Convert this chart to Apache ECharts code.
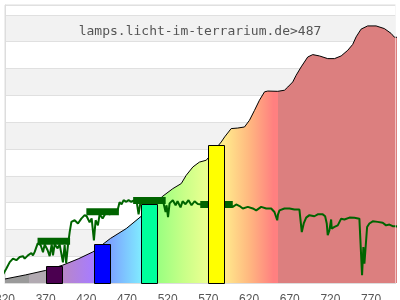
<!DOCTYPE html>
<html>
<head>
<meta charset="utf-8">
<script src="https://cdn.jsdelivr.net/npm/echarts@6/dist/echarts.min.js"></script>
<style>html,body{margin:0;padding:0;background:#fff}#c{width:400px;height:300px}</style>
</head>
<body>
<div id="c"></div>
<script>
// ---- data ----
const titleText = 'lamps.licht-im-terrarium.de>487';
const xTickStart = 320, xTickEnd = 800, xTickStep = 50;
const yMax = 10.37;

// lamp spectrum (filled area)
const areaNm  = [320,345,370,390.5,410,428,449.5,469,487.5,500,514,526.3,536.7,542.8,551,559,567.4,576,585.8,590,598,606,614.4,620.5,626.7,632.8,639,643,655.3,663.5,667.6,673.7,677.9,684,692.1,698.3,706.5,716.7,725,733.2,741.3,747.4,751.6,757.7,765.8,776.1,786.3,794.6,798.6,804.7];
const areaVal = [0.15,0.3,0.47,0.66,0.9,1.16,1.66,2.03,2.49,2.85,3.24,3.52,3.71,4.02,4.33,4.51,4.58,4.9,5.26,5.45,5.76,5.78,5.82,6.07,6.44,6.82,7.13,7.16,7.15,7.19,7.31,7.5,7.75,8.06,8.43,8.52,8.47,8.37,8.37,8.47,8.68,8.9,9.18,9.47,9.59,9.59,9.49,9.31,9.17,9.16];

// spectrum colour stops [nm, colour]
const colourNm  = [320,350,350,370,390,428,430,450,487,490,507,540,567,590,620,650,655,655,805];
const colourHex = ['#9a9a9a','#9a9a9a','#b2aab2','#b2aab2','#b987c6','#a77cff','#7f9cff','#7ca4ff','#80eaff','#90ff80','#98ff80','#c8ff88','#eaff90','#ffea8c','#ffb880','#ff8080','#ff8080','#dc7f7f','#dc7f7f'];

// reference (daylight) line
const greenNm  = [313.5,317.5,321.7,325.8,329.8,334,338.1,342.1,344.2,348.2,352.4,354.4,356.5,358.6,360.2,363.9,366.7,368.8,372.4,374.9,377.4,379,381,384.7,387.2,391.2,393.3,395.2,397.4,399.5,401.6,405.6,409.7,413.8,417.9,420.4,424,426.5,429.3,431.4,434.2,436.3,440,443.7,448.6,453.5,458.4,460.8,463.3,465.8,469.1,471.9,475.2,479.3,481.8,484.2,486.7,497.7,510,514.9,517.4,518.6,520.4,522.3,526.3,529.7,532.1,535.8,538.3,541.9,545.6,549.3,553,557,565,580,595,600,604.2,608.3,612.3,618.5,624.6,628.8,634.9,641.1,647.2,651.2,654.6,655.6,657.4,663.5,669.7,675.8,681.9,684,684.8,687.2,690.2,694.2,696.3,700.3,704.4,710.6,713.5,715.5,716.7,718.8,720.9,721.6,725,729,733.2,737.2,743.4,749.5,755.6,757.7,758.9,760.5,761.8,763,765.1,767.9,772,778.1,784.3,788.4,792.5,796.5,800.7,804.8];
const greenVal = [0.20,0.32,0.54,0.78,0.91,0.85,0.97,1.0,0.91,1.03,1.12,1.03,1.16,1.10,1.48,1.41,1.15,1.44,1.22,1.0,1.44,1.03,1.44,1.29,1.44,0.77,1.41,0.74,1.41,1.90,2.28,2.34,2.22,2.40,2.53,2.49,2.26,2.41,1.59,2.34,2.15,2.56,2.41,2.60,2.56,2.64,2.71,3.01,2.94,3.09,3.03,3.09,3.03,3.09,3.05,2.56,3.05,3.09,3.07,2.97,2.65,2.90,2.46,2.97,3.09,2.90,3.05,2.82,3.05,2.94,3.09,2.90,3.05,2.95,2.92,2.93,2.90,2.84,2.93,2.87,2.78,2.84,2.78,2.71,2.84,2.78,2.78,2.65,2.34,2.56,2.71,2.78,2.78,2.74,2.74,2.71,1.90,2.22,2.44,2.53,2.59,2.49,2.56,2.56,2.49,2.22,1.78,1.97,2.37,2.03,2.09,2.15,2.40,2.37,2.44,2.43,2.40,2.34,0.29,1.34,0.72,1.22,2.09,2.22,2.30,2.28,2.25,2.15,2.18,2.12,2.12,2.05];

// band averages of the reference line
const bandStart = [360,420,477.5,560];
const bandEnd   = [400,460,517.5,600];
const bandVal   = [1.56,2.66,3.08,2.93];

// LED bars
const barStart  = [370,430,487.5,570];
const barEnd    = [390,450,507.5,590];
const barVal    = [0.65,1.47,2.96,5.16];
const barColour = ['#4b0050','#0000ff','#00ff9c','#ffff00'];

// ---- chart ----
const chart = echarts.init(document.getElementById('c'), null, {renderer:'canvas'});
const aMin = areaNm[0], aMax = areaNm[areaNm.length-1];
const stops = colourNm.map((n,i)=>({offset: Math.min(1,Math.max(0,(n-aMin)/(aMax-aMin))), color: colourHex[i]}));

chart.setOption({
  animation:false,
  title:{text:titleText,left:'center',top:25,padding:0,
    textStyle:{fontFamily:'DejaVu Sans Mono',fontSize:13,fontWeight:'normal',color:'#555'}},
  grid:{left:5,right:4.5,top:5,bottom:17,outerBoundsMode:'none',containLabel:false,
    show:true,borderColor:'#dddddd',borderWidth:1,backgroundColor:'transparent'},
  xAxis:{type:'value',min:xTickStart,max:xTickEnd,interval:xTickStep,
    axisLine:{lineStyle:{color:'#dddddd'}},axisTick:{show:false},splitLine:{show:false},
    axisLabel:{color:'#555',fontSize:12,fontFamily:'Liberation Sans',margin:11,showMaxLabel:false}},
  yAxis:{type:'value',min:0,max:yMax,interval:1,
    axisLine:{show:true,lineStyle:{color:'#dddddd'}},axisTick:{show:false},axisLabel:{show:false},
    splitLine:{lineStyle:{color:'#e0e0e0'}},
    splitArea:{show:true,areaStyle:{color:['#ffffff','#f2f2f2']}}},
  series:[
    {type:'line',z:1,clip:false,showSymbol:false,silent:true,
     data:areaNm.map((n,i)=>[n,areaVal[i]]),
     lineStyle:{color:'#000',width:1},
     areaStyle:{opacity:1,color:new echarts.graphic.LinearGradient(0,0,1,0,stops)},
     markLine:{silent:true,symbol:['none','none'],label:{show:false},
       lineStyle:{color:'rgba(255,255,255,0.55)',type:'solid',width:1},
       data:[{xAxis:xTickEnd}]}},
    {type:'line',z:3,clip:false,showSymbol:false,silent:true,
     data:greenNm.map((n,i)=>[n,greenVal[i]]),
     lineStyle:{color:'#006400',width:2}},
    {type:'custom',z:4,silent:true,
     data:bandStart.map((s,i)=>[s,bandEnd[i],bandVal[i]]),
     renderItem:(params,api)=>{
       const a=api.coord([api.value(0),api.value(2)]);
       const b=api.coord([api.value(1),api.value(2)]);
       return {type:'rect',shape:{x:a[0],y:a[1]-3.5,width:b[0]-a[0],height:7},style:{fill:'#006400'}};
     }},
    {type:'custom',z:5,silent:true,
     data:barStart.map((s,i)=>[s,barEnd[i],barVal[i]]),
     renderItem:(params,api)=>{
       const a=api.coord([api.value(0),0]);
       const b=api.coord([api.value(1),api.value(2)]);
       return {type:'rect',shape:{x:Math.round(a[0])+0.5,y:Math.round(b[1])+0.5,width:Math.round(b[0]-a[0]),height:Math.round(a[1]-b[1])},
         style:{fill:barColour[params.dataIndex],stroke:'#000',lineWidth:1}};
     }}
  ]
});
</script>
</body>
</html>
